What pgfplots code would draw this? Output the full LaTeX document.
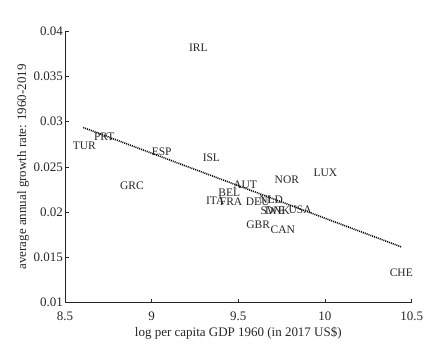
\documentclass[border=0pt]{standalone}
\usepackage{pgfplots}
\pgfplotsset{compat=1.18}
\usepackage{fontspec}
\setmainfont{Liberation Serif}
\begin{document}
\begin{tikzpicture}
\begin{axis}[
  scale only axis, width=347bp, height=272bp,
  xmin=8.5, xmax=10.5, ymin=0.01, ymax=0.04,
  axis x line*=bottom, axis y line*=left,
  axis line style={-, line width=0.6pt, black!85},
  tick align=inside, major tick length=4bp,
  tick style={line width=0.6pt, black!85},
  xtick={8.5,9,9.5,10,10.5},
  ytick={0.01,0.015,0.02,0.025,0.03,0.035,0.04},
  scaled y ticks=false, scaled x ticks=false,
  /pgf/number format/assume math mode=true,
  yticklabel style={/pgf/number format/fixed, /pgf/number format/precision=3, inner sep=2bp},
  xticklabel style={/pgf/number format/fixed, inner sep=2bp, yshift=-7bp},
  tick label style={font=\fontsize{13bp}{15bp}\selectfont, black!85},
  label style={font=\fontsize{13bp}{15bp}\selectfont, black!85},
  xlabel={log per capita GDP 1960 (in 2017 US\$)},
  ylabel={average annual growth rate: 1960-2019},
  xlabel style={yshift=-1bp},
  ylabel style={yshift=-1bp},
  clip=false,
]
\addplot[black, line width=1.6pt, dash pattern=on 1pt off 1pt] coordinates {(8.606,0.02934) (10.444,0.01614)};
\addplot[only marks, mark=none, nodes near coords, point meta=explicit symbolic,
  every node near coord/.style={anchor=west, inner sep=0pt, font=\fontsize{11.5bp}{13bp}\selectfont, black!85}]
  table[meta=label] {
x y label
9.215 0.03816 IRL
8.544 0.02732 TUR
8.667 0.02834 PRT
9.000 0.02665 ESP
9.294 0.02596 ISL
8.817 0.02291 GRC
9.709 0.02357 NOR
9.933 0.02434 LUX
9.470 0.02302 AUT
9.384 0.02217 BEL
9.313 0.02122 ITA
9.393 0.02117 FRA
9.543 0.02114 DEU
9.620 0.02136 NLD
9.628 0.02018 SWE
9.653 0.02018 DNK
9.789 0.02026 USA
9.545 0.01857 GBR
9.686 0.01805 CAN
10.373 0.01328 CHE
};
\end{axis}
\path ([shift={(-65bp,-42bp)}]current axis.south west) rectangle ([shift={(13bp,31bp)}]current axis.north east);
\end{tikzpicture}
\end{document}
